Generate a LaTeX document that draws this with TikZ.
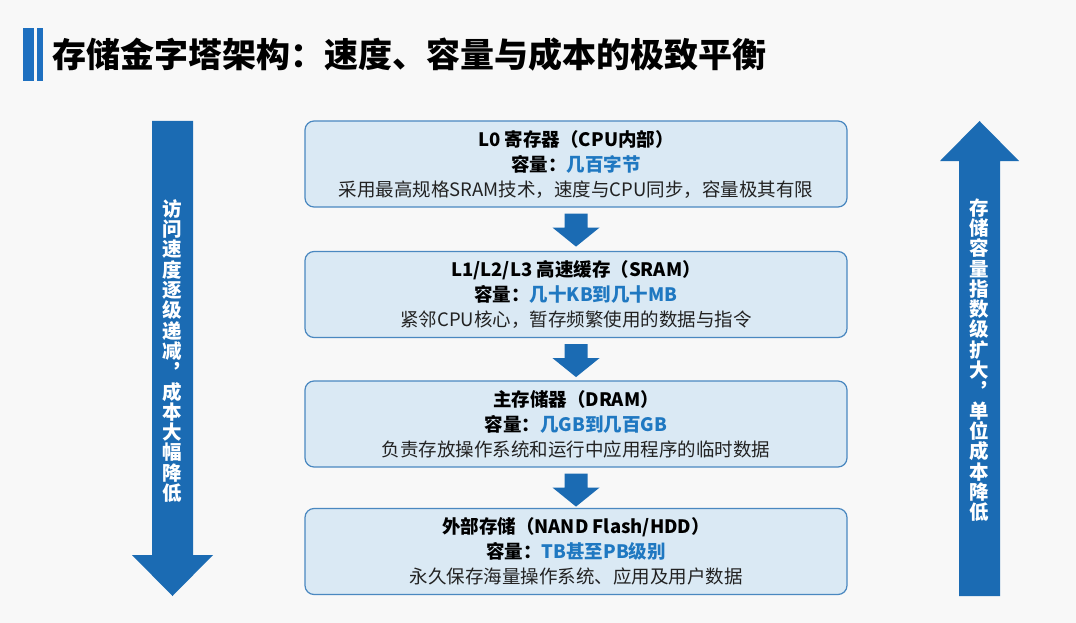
\documentclass[tikz,border=0pt]{standalone}
\usepackage{fontspec}
\setmainfont{Noto Sans CJK SC}
\usetikzlibrary{calc}
\definecolor{bgc}{HTML}{F8F8F8}
\definecolor{arrowblue}{HTML}{1B6BB3}
\definecolor{barblue}{HTML}{1E70C0}
\definecolor{boxfill}{HTML}{DAE9F4}
\definecolor{boxline}{HTML}{4A88C0}
\definecolor{valblue}{HTML}{1F78C1}
\definecolor{bodytext}{HTML}{222222}
\tikzset{
  levelbox/.style={draw=boxline, line width=1.2pt, fill=boxfill, rounded corners=9pt,
    minimum width=542pt, minimum height=86pt, inner sep=0pt, align=center,
    font=\fontsize{18.5}{25}\selectfont, text=black},
  sidetext/.style={text=white, align=center, inner sep=0pt,
    font=\fontsize{19.5}{20.3}\selectfont\bfseries},
  flowarrow/.style={fill=arrowblue, draw=none},
}
\newcommand{\capline}[1]{\textbf{容量：}\textcolor{valblue}{\textbf{#1}}}
\begin{document}
\begin{tikzpicture}[x=1pt,y=-1pt]
\useasboundingbox (0,0) rectangle (1076,623);
\fill[bgc] (0,0) rectangle (1076,623);
% title
\fill[barblue] (23,28) rectangle (34,81);
\fill[barblue] (37,28) rectangle (43,81);
\node[anchor=west, inner sep=0pt, font=\fontsize{34}{40}\selectfont\bfseries] (title) at (52,55) {存储金字塔架构：速度、容量与成本的极致平衡};
% boxes
\node[levelbox] (b1) at (576,164) {\textbf{L0 寄存器（CPU内部）}\\ \capline{几百字节}\\ {\color{bodytext}采用最高规格SRAM技术，速度与CPU同步，容量极其有限}};
\node[levelbox] (b2) at (576,294.5) {\textbf{L1/L2/L3 高速缓存（SRAM）}\\ \capline{几十KB到几十MB}\\ {\color{bodytext}紧邻CPU核心，暂存频繁使用的数据与指令}};
\node[levelbox] (b3) at (576,424) {\textbf{主存储器（DRAM）}\\ \capline{几GB到几百GB}\\ {\color{bodytext}负责存放操作系统和运行中应用程序的临时数据}};
\node[levelbox] (b4) at (576,551.5) {\textbf{外部存储（NAND Flash/HDD）}\\ \capline{TB甚至PB级别}\\ {\color{bodytext}永久保存海量操作系统、应用及用户数据}};
% flow arrows between boxes
\foreach \a in {b1,b2,b3}{
  \fill[flowarrow] (\a.south) ++(-11.5,6) -- ++(0,14) -- ++(-12,0) -- ++(23.5,19) -- ++(23.5,-19) -- ++(-12,0) -- ++(0,-14) -- cycle;
}
% left big arrow
\fill[flowarrow] (152,121) -- (193,121) -- (193,555) -- (213,555) -- (172.5,596) -- (132,555) -- (152,555) -- cycle;
\node[sidetext] (lt) at (172.5,351) {访\\问\\速\\度\\逐\\级\\递\\减\\︐\\成\\本\\大\\幅\\降\\低};
% right big arrow
\fill[flowarrow] (979.5,121) -- (1019,161) -- (1000,161) -- (1000,596) -- (959,596) -- (959,161) -- (940,161) -- cycle;
\node[sidetext] (rt) at (979.5,360) {存\\储\\容\\量\\指\\数\\级\\扩\\大\\︐\\单\\位\\成\\本\\降\\低};
\end{tikzpicture}
\end{document}
